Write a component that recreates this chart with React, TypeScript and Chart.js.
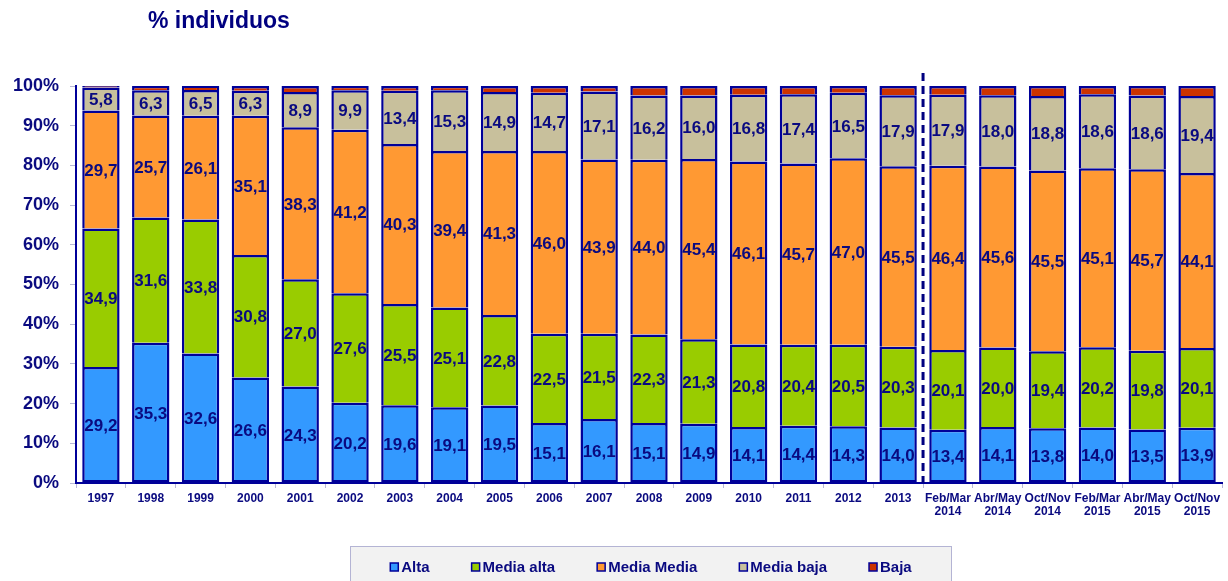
import React, { useEffect, useRef } from "react";
import { Chart, registerables } from "chart.js";

Chart.register(...registerables);

const categories: (string | string[])[] = [
  "1997", "1998", "1999", "2000", "2001", "2002", "2003", "2004", "2005",
  "2006", "2007", "2008", "2009", "2010", "2011", "2012", "2013",
  ["Feb/Mar", "2014"], ["Abr/May", "2014"], ["Oct/Nov", "2014"],
  ["Feb/Mar", "2015"], ["Abr/May", "2015"], ["Oct/Nov", "2015"],
];

const alta = [29.2, 35.3, 32.6, 26.6, 24.3, 20.2, 19.6, 19.1, 19.5, 15.1, 16.1, 15.1, 14.9, 14.1, 14.4, 14.3, 14.0, 13.4, 14.1, 13.8, 14.0, 13.5, 13.9];
const mediaAlta = [34.9, 31.6, 33.8, 30.8, 27.0, 27.6, 25.5, 25.1, 22.8, 22.5, 21.5, 22.3, 21.3, 20.8, 20.4, 20.5, 20.3, 20.1, 20.0, 19.4, 20.2, 19.8, 20.1];
const mediaMedia = [29.7, 25.7, 26.1, 35.1, 38.3, 41.2, 40.3, 39.4, 41.3, 46.0, 43.9, 44.0, 45.4, 46.1, 45.7, 47.0, 45.5, 46.4, 45.6, 45.5, 45.1, 45.7, 44.1];
const mediaBaja = [5.8, 6.3, 6.5, 6.3, 8.9, 9.9, 13.4, 15.3, 14.9, 14.7, 17.1, 16.2, 16.0, 16.8, 17.4, 16.5, 17.9, 17.9, 18.0, 18.8, 18.6, 18.6, 19.4];
const baja = [0.4, 1.1, 1.0, 1.2, 1.5, 1.1, 1.2, 1.1, 1.5, 1.7, 1.4, 2.4, 2.4, 2.2, 2.1, 1.7, 2.3, 2.2, 2.3, 2.5, 2.1, 2.4, 2.5];

const seriesNames = ["Alta", "Media alta", "Media Media", "Media baja", "Baja"];
const seriesColors = ["#3399ff", "#99cc00", "#ff9933", "#c8c09c", "#cc3300"];
const labelledSeries = [0, 1, 2, 3];
const splitAfterIndex = 16;
const titleText = "% individuos";

const NAVY = "#0a0a80";
const FONT = "'Liberation Sans', Arial, sans-serif";

const fmt = (v: number) => v.toFixed(1).replace(".", ",");

const segLabels = {
  id: "segLabels",
  afterDatasetsDraw(chart: any) {
    const ctx = chart.ctx;
    ctx.save();
    ctx.font = `bold 17px ${FONT}`;
    ctx.fillStyle = NAVY;
    ctx.textAlign = "center";
    ctx.textBaseline = "middle";
    labelledSeries.forEach((di) => {
      const meta = chart.getDatasetMeta(di);
      const data = chart.data.datasets[di].data as number[];
      meta.data.forEach((bar: any, i: number) => {
        const y = (bar.y + bar.base) / 2;
        ctx.fillText(fmt(data[i]), bar.x, y + 1.5);
      });
    });
    // dashed separator
    const xs = chart.scales.x;
    const x = (xs.getPixelForValue(splitAfterIndex) + xs.getPixelForValue(splitAfterIndex + 1)) / 2;
    ctx.strokeStyle = "#000080";
    ctx.lineWidth = 3;
    ctx.setLineDash([8, 5]);
    ctx.beginPath();
    ctx.moveTo(x, chart.chartArea.top - 13);
    ctx.lineTo(x, chart.chartArea.bottom);
    ctx.stroke();
    ctx.restore();
  },
};

const decorations = {
  id: "decorations",
  afterDraw(chart: any) {
    const ctx = chart.ctx;
    ctx.save();
    // title
    ctx.font = `bold 23px ${FONT}`;
    ctx.fillStyle = "#000080";
    ctx.textAlign = "left";
    ctx.textBaseline = "middle";
    ctx.fillText(titleText, 148, 22);

    // legend
    const boxLeft = 350;
    const boxRight = 952;
    const boxTop = 546;
    ctx.fillStyle = "#f2f2f2";
    ctx.fillRect(boxLeft, boxTop, boxRight - boxLeft, 40);
    ctx.strokeStyle = "#b4b4d4";
    ctx.lineWidth = 1;
    ctx.strokeRect(boxLeft + 0.5, boxTop + 0.5, boxRight - boxLeft - 1, 40);

    ctx.font = `bold 15px ${FONT}`;
    const sq = 8;
    const gapSq = 3;
    const gapItem = 42;
    const widths = seriesNames.map((n) => sq + gapSq + ctx.measureText(n).width);
    const total = widths.reduce((a, b) => a + b, 0) + gapItem * (seriesNames.length - 1);
    let x = (boxLeft + boxRight) / 2 - total / 2;
    const cy = 567;
    seriesNames.forEach((n, i) => {
      ctx.fillStyle = seriesColors[i];
      ctx.fillRect(x, cy - sq / 2, sq, sq);
      ctx.strokeStyle = "#000099";
      ctx.lineWidth = 1.5;
      ctx.strokeRect(x, cy - sq / 2, sq, sq);
      ctx.fillStyle = NAVY;
      ctx.textBaseline = "middle";
      ctx.fillText(n, x + sq + gapSq, cy + 1);
      x += widths[i] + gapItem;
    });
    ctx.restore();
  },
};

export default function App() {
  const ref = useRef<HTMLCanvasElement>(null);
  useEffect(() => {
    if (!ref.current) return;
    const series = [alta, mediaAlta, mediaMedia, mediaBaja, baja];
    const chart = new Chart(ref.current, {
      type: "bar",
      data: {
        labels: categories as any,
        datasets: series.map((d, i) => ({
          label: seriesNames[i],
          data: d,
          backgroundColor: seriesColors[i],
          borderColor: "#000099",
          borderWidth: 2.5,
          borderSkipped: i === 0 ? false : "start",
          barPercentage: 0.75,
          categoryPercentage: 1,
        })) as any,
      },
      options: {
        responsive: false,
        animation: false,
        layout: { padding: { top: 86, left: 0, right: 6, bottom: 0 } },
        plugins: {
          legend: { display: false },
          tooltip: { enabled: false },
          title: { display: false },
        },
        scales: {
          x: {
            stacked: true,
            afterFit: (s: any) => { s.height = 98; },
            grid: {
              display: true,
              drawOnChartArea: false,
              tickLength: 5,
              color: "#b8b8d8",
              offset: true,
            },
            border: { display: true, color: "#000099", width: 2 },
            ticks: {
              autoSkip: false,
              maxRotation: 0,
              minRotation: 0,
              color: NAVY,
              padding: 4,
              font: { family: FONT, size: 12, weight: "bold", lineHeight: 1.1 },
            },
          },
          y: {
            stacked: true,
            min: 0,
            max: 100,
            afterFit: (s: any) => { s.width = 76; },
            grid: {
              display: true,
              drawOnChartArea: false,
              tickLength: 6,
              color: "#b8b8d8",
            },
            border: { display: true, color: "#000099", width: 2 },
            ticks: {
              stepSize: 10,
              color: NAVY,
              padding: 11,
              font: { family: FONT, size: 18, weight: "bold" },
              callback: (v: any) => `${v}%`,
            },
          },
        },
      } as any,
      plugins: [segLabels, decorations],
    });
    return () => chart.destroy();
  }, []);
  return (
    <div style={{ position: "absolute", left: 0, top: 0, width: 1228, height: 581, background: "#fff" }}>
      <canvas ref={ref} width={1228} height={581} style={{ display: "block" }} />
    </div>
  );
}
